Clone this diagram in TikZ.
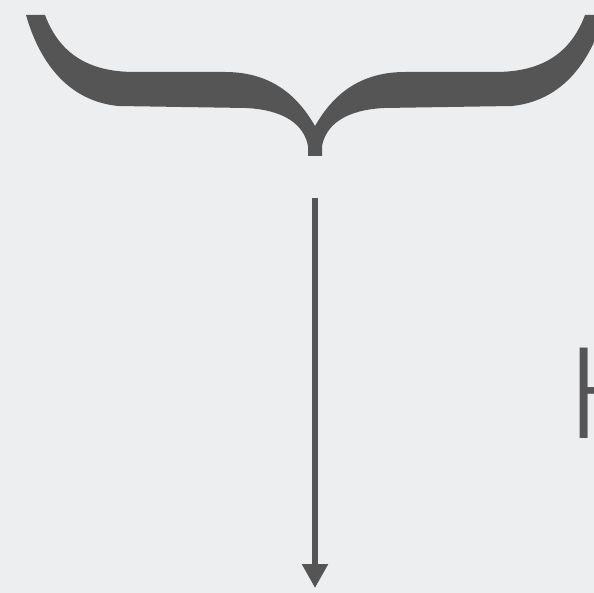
\documentclass[tikz,border=0pt]{standalone}
\usepackage{fontspec}
\newfontfamily\thinfont{Fira Sans Light}
\usetikzlibrary{arrows.meta}
\definecolor{paper}{RGB}{237,238,240}
\definecolor{ink}{RGB}{85,85,85}
\tikzset{
    brace/.style={fill=ink, draw=none},
    flow/.style={draw=ink, line width=5.5pt, -{Triangle[length=24pt,width=25pt]}},
}

\begin{document}
\begin{tikzpicture}[x=1pt,y=-1pt]
        % Draw the background
        \fill[paper] (0,0) rectangle (594,593);
        \clip (0,0) rectangle (594,593);

        % Draw the brace
        \fill[brace] (308,156) -- (308,146) .. controls (304,125) and (285,110) .. (246,108) -- (118,106)
            .. controls (60,100) and (36,50) .. (26,15) -- (45,15)
            .. controls (60,55) and (90,72) .. (135,72) -- (225,72)
            .. controls (275,72) and (300,100) .. (315,126)
            .. controls (330,100) and (355,72) .. (405,72) -- (495,72)
            .. controls (540,72) and (570,55) .. (585,15) -- (604,15)
            .. controls (594,50) and (570,100) .. (512,106) -- (384,108)
            .. controls (345,110) and (326,125) .. (322,146) -- (322,156) -- cycle;

        % Draw the arrow
        \coordinate (top) at (315,198);
        \coordinate (bottom) at (315,588);
        \draw[flow] (top) -- (bottom);

        % Draw the letter
        \node[font=\thinfont\fontsize{132}{132}\selectfont, text=ink, anchor=base west, inner sep=0pt] (letter) at (565,438) {H};
\end{tikzpicture}
\end{document}
